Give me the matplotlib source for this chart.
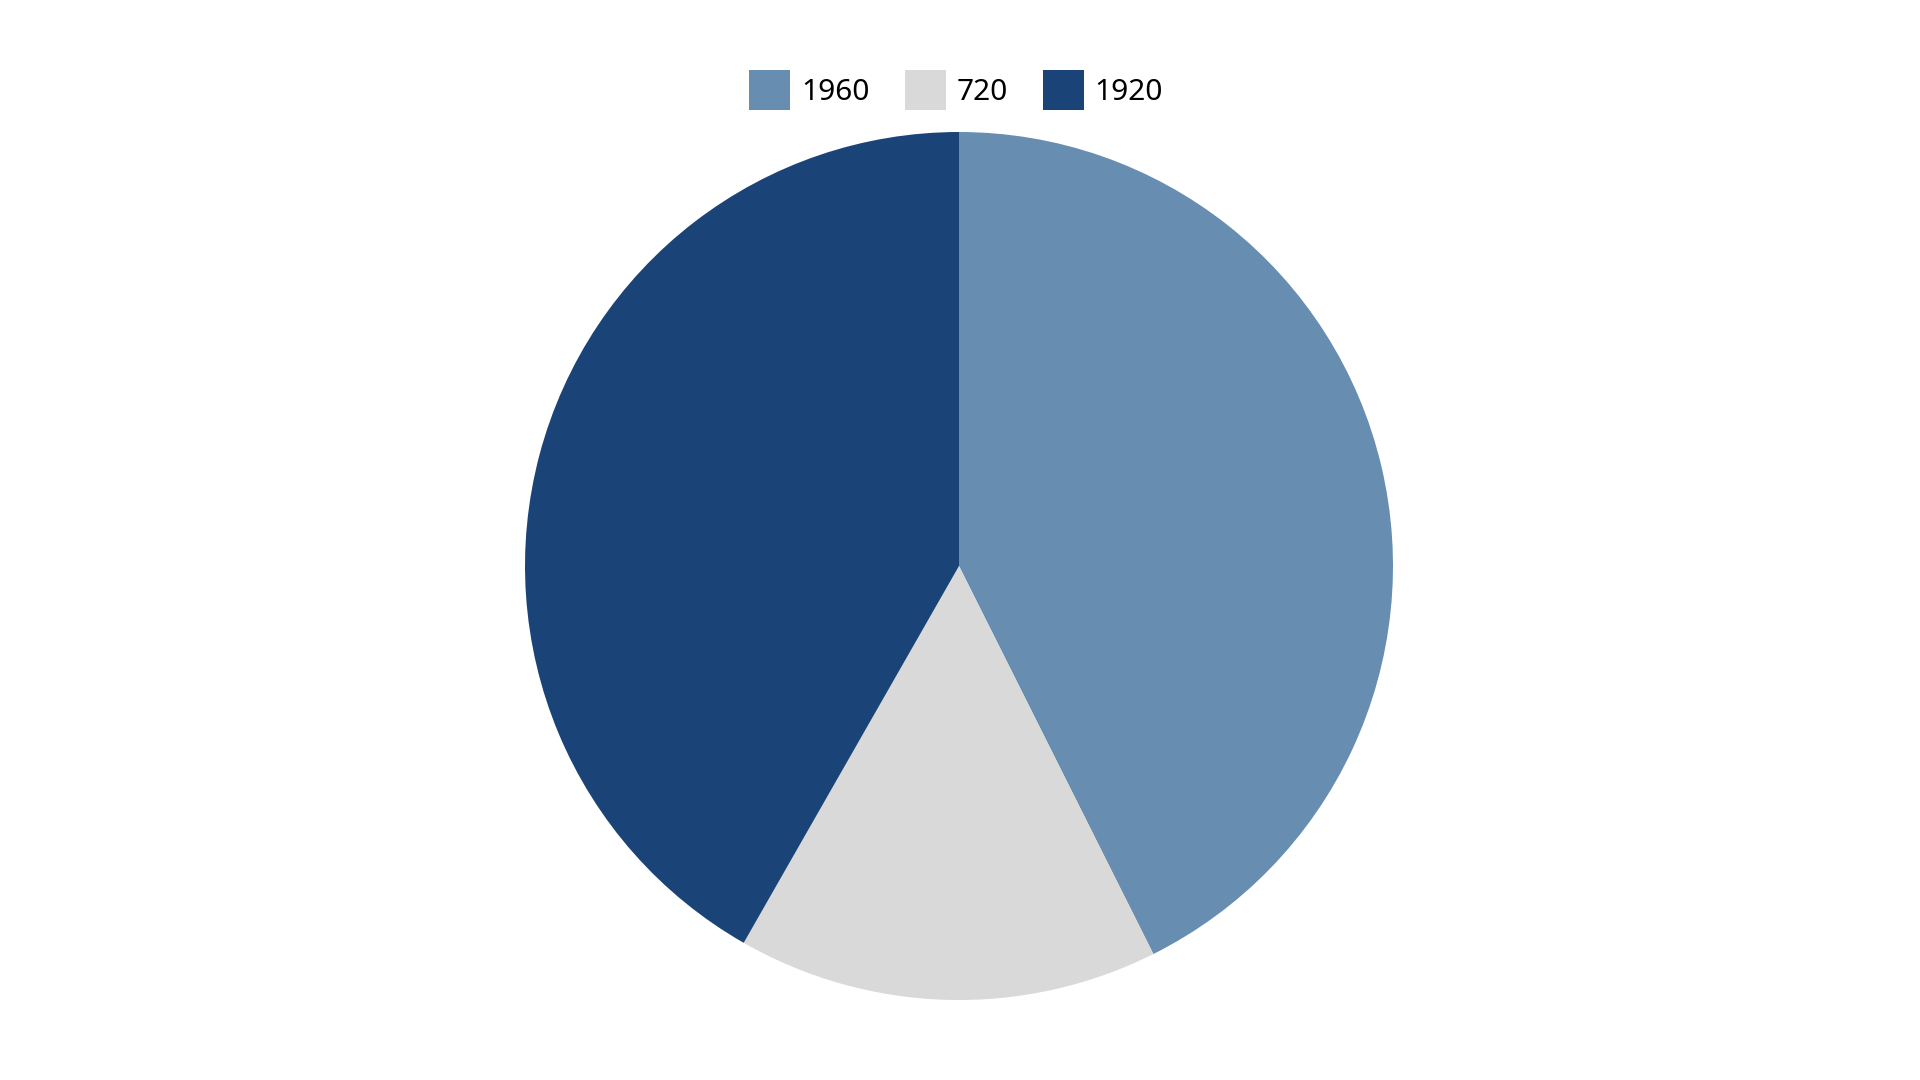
import matplotlib
matplotlib.use("Agg")
import matplotlib.pyplot as plt
from matplotlib.patches import Patch

labels = ["1960", "720", "1920"]
values = [1960, 720, 1920]
colors = ["#678eb1", "#d9d9d9", "#1a4378"]

plt.rcParams['font.family'] = ['Noto Sans', 'DejaVu Sans']

W, H = 1920, 1080
fig = plt.figure(figsize=(W / 100, H / 100), dpi=100)
cx, cy, r = 959, 566, 434
ax = fig.add_axes([(cx - r) / W, (H - cy - r) / H, 2 * r / W, 2 * r / H])
ax.pie(values, colors=colors, startangle=90, counterclock=False, radius=1,
       wedgeprops=dict(edgecolor='none', linewidth=0))
ax.set_xlim(-1, 1)
ax.set_ylim(-1, 1)
ax.set_aspect('auto')
ax.axis('off')

handles = [Patch(facecolor=c, edgecolor='none', label=l) for c, l in zip(colors, labels)]
fig.legend(handles=handles, loc='center', bbox_to_anchor=(956 / W, 1 - 90 / H),
           ncol=3, frameon=False, fontsize=21.5, handlelength=1.38, handleheight=1.7,
           handletextpad=0.35, columnspacing=1.18, borderpad=0, borderaxespad=0)

fig.savefig("out.png", dpi=100, facecolor='white')
